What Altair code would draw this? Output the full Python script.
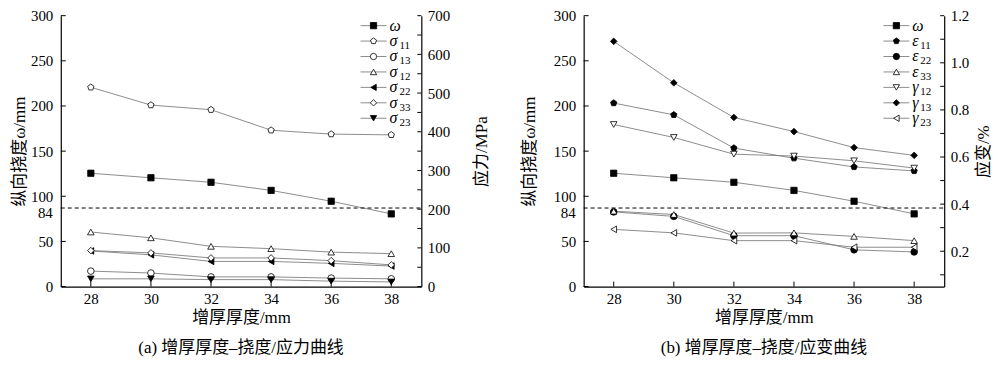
import altair as alt
import pandas as pd

# ---------------- data ----------------
thickness = [28, 30, 32, 34, 36, 38]
omega = [125.5, 120.5, 115.5, 106.5, 94.5, 80.5]

sigma11 = [515, 469, 457, 404, 394, 392]
sigma13 = [40, 35, 25, 25, 22, 20]
sigma12 = [141, 126, 104, 98, 89, 85]
sigma22 = [92, 82, 65, 65, 60, 53]
sigma33 = [93, 87, 74, 74, 67, 56]
sigma23 = [20, 20, 18, 18, 14, 12]

eps11 = [0.829, 0.779, 0.638, 0.595, 0.558, 0.541]
eps22 = [0.367, 0.348, 0.266, 0.266, 0.206, 0.197]
eps33 = [0.370, 0.356, 0.277, 0.278, 0.263, 0.245]
gam12 = [0.738, 0.683, 0.612, 0.604, 0.584, 0.553]
gam13 = [1.091, 0.915, 0.768, 0.708, 0.640, 0.607]
gam23 = [0.293, 0.278, 0.245, 0.245, 0.217, 0.217]

x_ticks = [28, 30, 32, 34, 36, 38]
omega_ticks = [0, 50, 100, 150, 200, 250, 300]
stress_ticks = [0, 50, 100, 150, 200, 250, 300, 350, 400, 450, 500, 550, 600, 650, 700]
strain_ticks = [0.1, 0.2, 0.3, 0.4, 0.5, 0.6, 0.7, 0.8, 0.9, 1.0, 1.1, 1.2]
omega_limit = 87
omega_limit_label = "84"

stress_names = ["s11", "s13", "s12", "s22", "s33", "s23"]
stress_syms = ["σ", "σ", "σ", "σ", "σ", "σ"]
stress_subs = ["11", "13", "12", "22", "33", "23"]
strain_names = ["e11", "e22", "e33", "g12", "g13", "g23"]
strain_syms = ["ε", "ε", "ε", "γ", "γ", "γ"]
strain_subs = ["11", "22", "33", "12", "13", "23"]

# ---------------- style ----------------
FONT = "Liberation Serif, Noto Sans CJK SC"
W, H = 362, 272
GRAY = "#808080"
PENTAGON = "M0,-1L0.951,-0.309L0.588,0.809L-0.588,0.809L-0.951,-0.309Z"

xscale = alt.Scale(domain=[27, 39], nice=False, zero=False)
xaxis = alt.Axis(values=x_ticks, title="增厚厚度/mm", labelPadding=5, titlePadding=3)
X = alt.X("x:Q", scale=xscale, axis=xaxis)


def make_panel(names_r, values_r, shapes_r, fills_r, domain_r, ticks_r, label_expr_r,
               title_r, title_pad_r, title_pad_l, syms_r, subs_r, sub_dx, caption):
    names = ["omega"] + names_r
    shape_enc = alt.Shape("series:N", scale=alt.Scale(domain=names, range=["square"] + shapes_r), legend=None)
    fill_enc = alt.Fill("series:N", scale=alt.Scale(domain=names, range=["black"] + fills_r), legend=None)

    # ---- left axis (deflection) ----
    yom = alt.Scale(domain=[0, 300], nice=False, zero=False)
    Yom = alt.Y("v:Q", scale=yom,
                axis=alt.Axis(values=omega_ticks, title="纵向挠度ω/mm", orient="left",
                              titlePadding=title_pad_l, labelPadding=8))
    om_df = pd.DataFrame({"x": thickness, "v": omega, "series": "omega"})
    om_line = alt.Chart(om_df).mark_line(color=GRAY, strokeWidth=0.9).encode(x=X, y=Yom)
    om_pts = alt.Chart(om_df).mark_point(size=40, stroke="black", strokeWidth=0.8, opacity=1,
                                         fillOpacity=1).encode(x=X, y=Yom, shape=shape_enc, fill=fill_enc)
    lim = alt.Chart(pd.DataFrame({"v": [omega_limit]})).mark_rule(
        color="black", strokeDash=[4, 3], strokeWidth=1).encode(y=Yom, x=alt.value(0), x2=alt.value(W))
    lim_txt = alt.Chart(pd.DataFrame({"v": [84], "t": [omega_limit_label]})).mark_text(
        align="right", baseline="middle", fontSize=15, font=FONT, color="black", dy=2).encode(
        y=Yom, x=alt.value(-8), text="t:N")
    lt = alt.Chart(pd.DataFrame({"v": omega_ticks})).mark_rule(color="black", strokeWidth=1).encode(
        y=Yom, x=alt.value(0), x2=alt.value(5))
    xt = alt.Chart(pd.DataFrame({"x": x_ticks})).mark_rule(color="black", strokeWidth=1).encode(
        x=X, y=alt.value(H), y2=alt.value(H - 5))
    left = alt.layer(om_line, lim, om_pts, lim_txt, lt, xt)

    # ---- right axis ----
    rows = []
    for n, vals in zip(names_r, values_r):
        for xv, vv in zip(thickness, vals):
            rows.append({"x": xv, "v": vv, "series": n})
    r_df = pd.DataFrame(rows)
    yr = alt.Scale(domain=domain_r, nice=False, zero=False)
    Yr = alt.Y("v:Q", scale=yr,
               axis=alt.Axis(values=ticks_r, labelExpr=label_expr_r, title=title_r, orient="right",
                             titleAngle=270, titleBaseline="top", titlePadding=title_pad_r,
                             labelPadding=6))
    r_line = alt.Chart(r_df).mark_line(color=GRAY, strokeWidth=0.9).encode(x=X, y=Yr, detail="series:N")
    r_pts = alt.Chart(r_df).mark_point(size=44, stroke="black", strokeWidth=0.8, opacity=1,
                                       fillOpacity=1).encode(x=X, y=Yr, shape=shape_enc, fill=fill_enc)
    rt = alt.Chart(pd.DataFrame({"v": ticks_r})).mark_rule(color="black", strokeWidth=1).encode(
        y=Yr, x=alt.value(W - 4), x2=alt.value(W))
    right = alt.layer(r_line, r_pts, rt)

    # ---- legend ----
    leg_df = pd.DataFrame({"series": names, "sym": ["ω"] + syms_r, "sub": [""] + subs_r,
                           "idx": list(range(len(names)))})
    base = alt.Chart(leg_df).transform_calculate(py="10 + datum.idx * 15.5")
    Yl = alt.Y("py:Q", scale=None, axis=None)
    l_rule = base.mark_rule(color=GRAY, strokeWidth=0.9).encode(y=Yl, x=alt.value(301), x2=alt.value(327))
    l_pt = base.mark_point(size=40, stroke="black", strokeWidth=0.8, opacity=1, fillOpacity=1).encode(
        y=Yl, x=alt.value(314), shape=shape_enc, fill=fill_enc)
    l_sym = base.mark_text(align="left", baseline="middle", fontSize=16, fontStyle="italic",
                           font=FONT, color="black").encode(y=Yl, x=alt.value(330), text="sym:N")
    l_sub = base.mark_text(align="left", baseline="middle", fontSize=11, font=FONT, color="black",
                           dy=5).encode(y=Yl, x=alt.value(330 + sub_dx), text="sub:N")
    legend = alt.layer(l_rule, l_pt, l_sym, l_sub)

    return alt.layer(left, right, legend).resolve_scale(y="independent").properties(
        width=W, height=H,
        title=alt.TitleParams(caption, orient="bottom", frame="group", anchor="middle", offset=15,
                              font=FONT, fontSize=17, fontWeight="normal", color="black"))


p1 = make_panel(stress_names, [sigma11, sigma13, sigma12, sigma22, sigma33, sigma23],
                [PENTAGON, "circle", "triangle-up", "triangle-left", "diamond", "triangle-down"],
                ["white", "white", "white", "black", "white", "black"],
                [0, 700], stress_ticks, "datum.value % 100 == 0 ? datum.label : ''",
                "应力/MPa", 24, 2, stress_syms, stress_subs, 10,
                "(a) 增厚厚度–挠度/应力曲线")

p2 = make_panel(strain_names, [eps11, eps22, eps33, gam12, gam13, gam23],
                [PENTAGON, "circle", "triangle-up", "triangle-down", "diamond", "triangle-left"],
                ["black", "black", "white", "white", "black", "white"],
                [0.05, 1.2], strain_ticks,
                "round(datum.value * 10) % 2 == 0 ? format(datum.value, '.1f') : ''",
                "应变/%", 7, 15, strain_syms, strain_subs, 8,
                "(b) 增厚厚度–挠度/应变曲线")

chart = alt.hconcat(p1, p2, spacing=30).resolve_scale(
    shape="independent", fill="independent"
).properties(
    padding={"left": 2, "top": 0, "right": 0, "bottom": 0}
).configure_view(stroke=None).configure_axis(
    ticks=False, grid=False, domainColor="black", domainWidth=1.2,
    labelFont=FONT, titleFont=FONT, labelFontSize=15, titleFontSize=17,
    labelColor="black", titleColor="black", titleFontWeight="normal", labelFlush=False
)

chart.save("out.html", embed_options={"renderer": "svg", "actions": False})
